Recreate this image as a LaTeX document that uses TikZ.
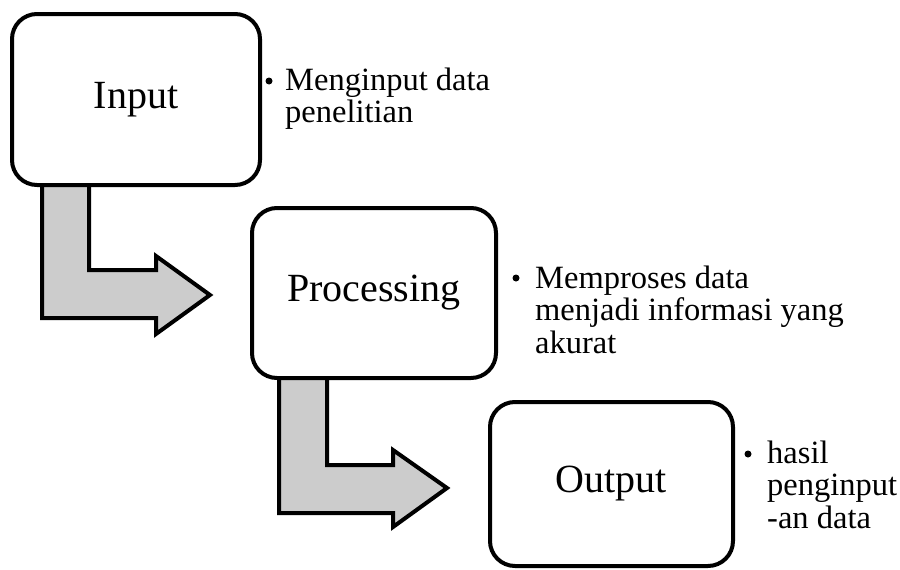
\documentclass[tikz,border=0pt]{standalone}
\usepackage{fontspec}
\setmainfont{Liberation Serif}
% stacked lines whose baseline is that of the first line
\newcommand{\notelines}[1]{\vtop{\def\\{\egroup\hbox\bgroup}\hbox\bgroup#1\egroup}}
\begin{document}
\begin{tikzpicture}[x=1pt,y=-1pt,
  stagebox/.style={draw=black, line width=4pt, fill=white, rounded corners=25pt,
    inner sep=0pt, font=\fontsize{40}{48}\selectfont},
  bendarrow/.style={draw=black, line width=4pt, fill=black!20, line join=miter},
  note/.style={anchor=base west, inner sep=0pt,
    font=\fontsize{32.5}{32.5}\selectfont},
  dot/.style={circle, fill=black, inner sep=0pt, minimum size=7pt}]
\useasboundingbox (0,0) rectangle (900,570);

% bent arrows between the stages (drawn first, boxes cover their tops)
\draw[bendarrow] (42,180) -- (42,318) -- (156,318) -- (156,334) -- (210,295)
  -- (156,256) -- (156,270) -- (89,270) -- (89,180) -- cycle;
\draw[bendarrow] (279,372) -- (279,513) -- (393,513) -- (393,527) -- (447,488)
  -- (393,450) -- (393,465) -- (327,465) -- (327,372) -- cycle;

% stages
\node[stagebox, minimum width=248pt, minimum height=171pt] (input) at (136,99.5) {Input};
\node[stagebox, minimum width=244pt, minimum height=170pt] (proc) at (374,293) {Processing};
\node[stagebox, minimum width=243pt, minimum height=164pt] (output) at (611.5,484) {Output};

% notes
\node[dot] (b1) at (269,81) {};
\node[note] (n1) at (285,90) {\notelines{Menginput data\\penelitian}};
\node[dot] (b2) at (516,278) {};
\node[note] (n2) at (535,288) {\notelines{Memproses data\\menjadi informasi yang\\akurat}};
\node[dot] (b3) at (748,454) {};
\node[note] (n3) at (767,463) {\notelines{hasil\\penginput\\-an data}};
\end{tikzpicture}
\end{document}
